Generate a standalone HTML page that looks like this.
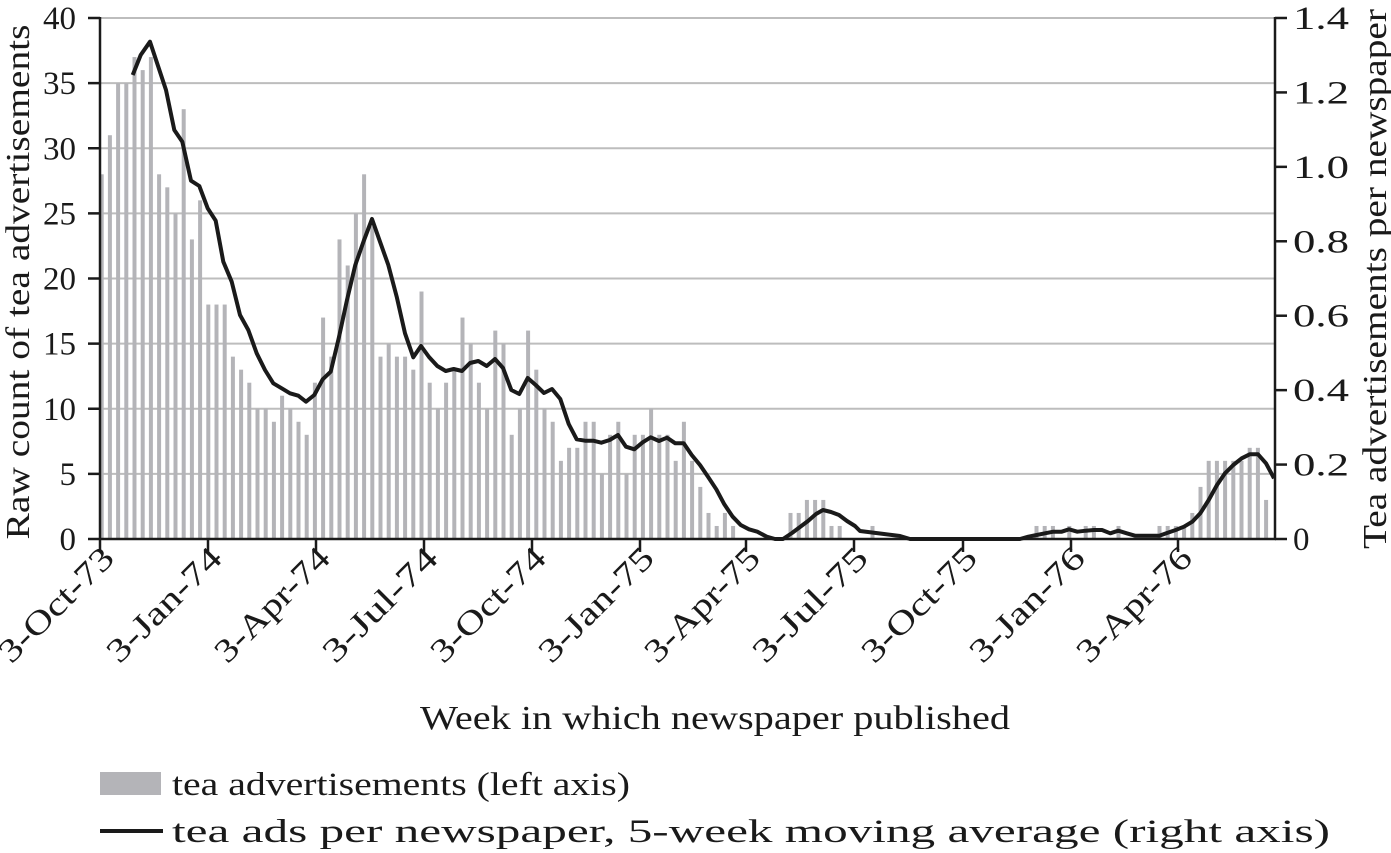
<!DOCTYPE html>
<html><head><meta charset="utf-8"><style>
html,body{margin:0;padding:0;background:#fff;}
svg{display:block;font-family:"Liberation Serif",serif;}
</style></head><body>
<svg id="s" width="1391" height="853" viewBox="0 0 1391 853" xmlns="http://www.w3.org/2000/svg">
<g id="grid" stroke="#bdbdbd" stroke-width="2"></g>
<g id="bars" fill="#b4b4b8"></g>
<polyline id="ln" fill="none" stroke="#1a1a1a" stroke-width="4" stroke-linejoin="round"/>
<g id="axes" stroke="#1a1a1a" stroke-width="2.5"></g>
<g id="lab" font-size="33" fill="#1a1a1a"></g>
<text x="0" y="0" font-size="34" fill="#1a1a1a" text-anchor="middle" textLength="515" lengthAdjust="spacingAndGlyphs" transform="translate(29,282) rotate(-90)">Raw count of tea advertisements</text>
<text x="0" y="0" font-size="34" fill="#1a1a1a" text-anchor="middle" textLength="540" lengthAdjust="spacingAndGlyphs" transform="translate(1386,279) rotate(-90)">Tea advertisements per newspaper</text>
<text x="420" y="729" font-size="34" fill="#1a1a1a" textLength="590" lengthAdjust="spacingAndGlyphs">Week in which newspaper published</text>
<rect x="100" y="772" width="61" height="23" fill="#b4b4b8"/>
<text x="172" y="795" font-size="33" fill="#1a1a1a" textLength="458" lengthAdjust="spacingAndGlyphs">tea advertisements (left axis)</text>
<line x1="100" y1="831" x2="163" y2="831" stroke="#1a1a1a" stroke-width="4"/>
<text x="172" y="842" font-size="33" fill="#1a1a1a" textLength="1158" lengthAdjust="spacingAndGlyphs">tea ads per newspaper, 5-week moving average (right axis)</text>
</svg>
<script>
const NS="http://www.w3.org/2000/svg";
function el(p,t,a,txt){const e=document.createElementNS(NS,t);for(const k in a)e.setAttribute(k,a[k]);if(txt!==undefined)e.textContent=txt;document.getElementById(p).appendChild(e);return e;}
const y0=539,ppu=13.025;
for(let v=5;v<=40;v+=5){el('grid','line',{x1:100,x2:1275,y1:y0-v*ppu,y2:y0-v*ppu});}
const d=new Array(143).fill(0);
const vals=[28,31,35,35,37,36,37,28,27,25,33,23,26,18,18,18,14,13,12,10,10,9,11,10,9,8,12,17,14,23,21,25,28,24,14,15,14,14,13,19,12,10,12,13,17,15,12,10,16,15,8,10,16,13,10,9,6,7,7,9,9,5,8,9,5,8,8,10,8,8,6,9,6,4,2,1,2,1];
vals.forEach((v,i)=>d[i]=v);
[[84,2],[85,2],[86,3],[87,3],[88,3],[89,1],[90,1],[94,1],[114,1],[115,1],[116,1],[118,1],[120,1],[121,1],[124,1],[129,1],[130,1],[131,1],[132,1],[133,2],[134,4],[135,6],[136,6],[137,6],[138,6],[139,6],[140,7],[141,7],[142,3]].forEach(([i,v])=>d[i]=v);
d.forEach((v,i)=>{if(v>0){const x=101.7+8.2*i;el('bars','rect',{x:x-2,y:y0-v*ppu,width:4,height:v*ppu});}});
const pts=[[132.7,75],[140.7,55],[150,41.7],[158.3,66.7],[166,90],[174.3,130],[182.3,141.7],[191,180.7],[199.3,186],[207.7,208.3],[215.7,220.7],[223.3,261.7],[231.7,281.7],[240,315],[248.3,330],[256.7,353.3],[265,370],[273.3,383.3],[281.7,388.3],[290,393.3],[298.3,395.7],[306,401.7],[314.3,395],[322.7,379.3],[330.7,371.7],[338.7,338.3],[347,300],[355.3,265],[363.7,241],[372,219],[380,241.7],[388.3,265],[396.7,296.7],[405,333.3],[413.3,357.3],[421,346],[429,357],[437.3,366],[445.7,371],[453.7,369],[462,371],[470,363],[478.3,361],[486.7,366],[495,359],[503,368],[511.3,390],[519.3,394],[527.7,378],[535.7,385],[544,393],[552,389],[560.3,399],[568.7,424],[576.7,439.3],[585,440.7],[593.3,440.7],[601.3,442.7],[609.7,440],[618,435],[626,446.7],[634.3,449.3],[642.7,442.3],[650.7,437.3],[659,441],[667,437.7],[675.3,443.3],[683.7,443.3],[691.7,455],[700,465],[708,476.7],[716.3,489.3],[724.3,504.3],[732.7,516.7],[740.7,525],[749,529.3],[757.3,531.7],[766.7,536.7],[775,539],[783,539],[792,533],[800,527],[808,521],[816,514],[823,510],[831,512],[839,515],[847,521],[855,526],[860,531],[868,532],[876,533],[884,534],[892,535],[900,536],[910,539],[1020,539],[1028.3,536.7],[1036.7,535],[1045,533.3],[1053.3,531.7],[1061.7,531.7],[1069,529.3],[1077.3,531.7],[1085.7,530.7],[1094,530],[1102,530],[1110.3,533.3],[1118.3,530.7],[1126.7,533.3],[1135,535.7],[1159.3,535.7],[1167.7,532.7],[1175.7,530],[1184,526.7],[1192.3,521.7],[1200.3,513.3],[1208.7,500],[1217,485],[1225,473.3],[1233.3,465],[1241.7,458.3],[1249.7,454.3],[1258,454.3],[1266,463.3],[1274,478.3]];
document.getElementById('ln').setAttribute('points',pts.map(p=>p.join(',')).join(' '));
el('axes','line',{x1:100,y1:17,x2:100,y2:540});
el('axes','line',{x1:1275,y1:17,x2:1275,y2:540});
el('axes','line',{x1:99,y1:539,x2:1276,y2:539});
for(let v=0;v<=40;v+=5){const y=y0-v*ppu;el('axes','line',{x1:88,x2:100,y1:y,y2:y});el('lab','text',{x:76,y:y+11,'text-anchor':'end'},String(v));}
const rl=['0','0.2','0.4','0.6','0.8','1.0','1.2','1.4'];
for(let k=0;k<8;k++){const y=y0-k*74.43;el('axes','line',{x1:1275,x2:1287,y1:y,y2:y});const a={x:1293,y:y+11};if(k>0){a.textLength=56;a.lengthAdjust='spacingAndGlyphs';}el('lab','text',a,rl[k]);}
const xt=[100,208,316,424,532,640,746,854,963,1071,1178];
const xl=['3-Oct-73','3-Jan-74','3-Apr-74','3-Jul-74','3-Oct-74','3-Jan-75','3-Apr-75','3-Jul-75','3-Oct-75','3-Jan-76','3-Apr-76'];
xt.forEach((x,i)=>{el('axes','line',{x1:x,x2:x,y1:539,y2:552});el('lab','text',{x:0,y:0,'text-anchor':'end',textLength:148,lengthAdjust:'spacingAndGlyphs',transform:`translate(${x+16},${560}) rotate(-45)`},xl[i]);});
</script>
</body></html>
